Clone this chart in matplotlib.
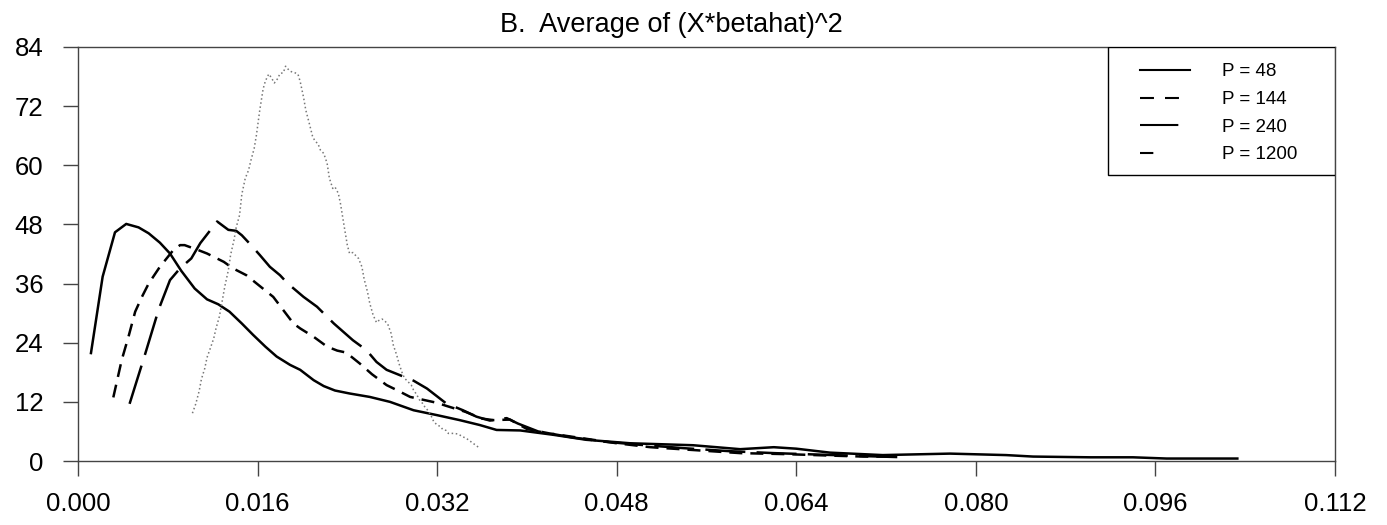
import matplotlib
matplotlib.use("Agg")
import matplotlib.pyplot as plt
from matplotlib.lines import Line2D
from matplotlib.patches import Rectangle

plt.rcParams['font.family'] = ['Liberation Sans', 'DejaVu Sans']

# ---- data (x, density) ----
x48 = [0.00116, 0.0022, 0.0033, 0.0043, 0.0054, 0.0063, 0.0073, 0.0082, 0.0092,
       0.0104, 0.0115, 0.0125, 0.0135, 0.0146, 0.0156, 0.0167, 0.0177, 0.0189,
       0.0198, 0.0210, 0.0219, 0.0229, 0.0242, 0.0260, 0.0278, 0.0299, 0.0320,
       0.0340, 0.0358, 0.0373, 0.0394, 0.0424, 0.0453, 0.0492, 0.0548, 0.0590,
       0.0620, 0.0640, 0.0670, 0.0717, 0.0777, 0.0827, 0.0851, 0.0902, 0.0940,
       0.0970, 0.1033]
y48 = [21.9, 37.4, 46.4, 48.1, 47.4, 46.2, 44.3, 42.1, 38.6,
       35.0, 32.8, 31.8, 30.3, 27.9, 25.6, 23.2, 21.2, 19.5,
       18.5, 16.4, 15.2, 14.3, 13.7, 13.0, 12.0, 10.3, 9.3,
       8.3, 7.3, 6.3, 6.2, 5.3, 4.3, 3.6, 3.2, 2.4,
       2.8, 2.5, 1.7, 1.2, 1.5, 1.2, 0.9, 0.75, 0.75,
       0.5, 0.5]

x144 = [0.00315, 0.0039, 0.0045, 0.0051, 0.0057, 0.0063, 0.0073, 0.0085, 0.0091,
        0.0095, 0.0106, 0.0115, 0.0130, 0.0138, 0.0150, 0.0162, 0.0174, 0.0183,
        0.0192, 0.0198, 0.0210, 0.0222, 0.0231, 0.0239, 0.0251, 0.0262, 0.0275,
        0.0284, 0.0296, 0.0308, 0.0320, 0.0328, 0.0345, 0.0360, 0.0370, 0.0385,
        0.0400, 0.0420, 0.0450, 0.0480, 0.0510, 0.0550, 0.0590, 0.0630, 0.0670,
        0.0700, 0.0725]
y144 = [12.9, 20.5, 25.2, 30.3, 33.3, 36.0, 39.4, 42.8, 43.8,
        43.8, 42.9, 42.1, 40.4, 39.1, 37.7, 35.5, 33.3, 30.6,
        27.9, 26.9, 25.2, 23.2, 22.4, 22.0, 19.8, 17.6, 15.4,
        14.4, 13.0, 12.4, 11.8, 11.2, 10.0, 8.6, 8.3, 8.4,
        6.5, 5.6, 4.6, 3.6, 2.8, 2.2, 1.6, 1.4, 1.1,
        0.9, 0.9]

x240 = [0.0046, 0.0060, 0.0070, 0.0073, 0.0082, 0.0091, 0.0101, 0.0109, 0.0124,
        0.0134, 0.0141, 0.0146, 0.0153, 0.0162, 0.0171, 0.0180, 0.0187, 0.0201,
        0.0213, 0.0228, 0.0245, 0.0257, 0.0266, 0.0275, 0.0287, 0.0299, 0.0311,
        0.0328, 0.0343, 0.0355, 0.0367, 0.0382, 0.0392, 0.0410, 0.0440, 0.0470,
        0.0500, 0.0540, 0.0580, 0.0620, 0.0660, 0.0700, 0.0730]
y240 = [11.6, 21.8, 29.3, 31.4, 36.7, 39.1, 41.1, 44.2, 48.6,
        46.9, 46.7, 45.8, 44.1, 41.8, 39.4, 37.7, 36.0, 33.3,
        31.3, 27.9, 24.5, 22.5, 20.1, 18.5, 17.4, 16.3, 14.7,
        11.7, 10.3, 9.0, 8.2, 8.7, 7.6, 6.0, 4.8, 3.9,
        3.3, 2.6, 2.0, 1.6, 1.3, 1.0, 0.8]

x1200 = [0.0102, 0.0105, 0.0108, 0.0110, 0.0113, 0.0115, 0.0118, 0.0121, 0.0123,
         0.0126, 0.0128, 0.0131, 0.0134, 0.0136, 0.0139, 0.0141, 0.0144, 0.0146,
         0.0149, 0.0152, 0.0154, 0.0157, 0.0159, 0.0162, 0.0165, 0.0167, 0.0170,
         0.0172, 0.0175, 0.0178, 0.0180, 0.0183, 0.0185, 0.0188, 0.0190, 0.0193,
         0.0196, 0.0198, 0.0201, 0.0203, 0.0206, 0.0209, 0.0211, 0.0214, 0.0216,
         0.0219, 0.0222, 0.0224, 0.0227, 0.0229, 0.0232, 0.0234, 0.0237, 0.0240,
         0.0242, 0.0245, 0.0247, 0.0250, 0.0253, 0.0255, 0.0258, 0.0260, 0.0263,
         0.0266, 0.0268, 0.0271, 0.0273, 0.0276, 0.0279, 0.0281, 0.0284, 0.0286,
         0.0289, 0.0291, 0.0294, 0.0297, 0.0299, 0.0302, 0.0304, 0.0307, 0.0309,
         0.0312, 0.0315, 0.0317, 0.0320, 0.0323, 0.0325, 0.0328, 0.0330, 0.0333,
         0.0335, 0.0338, 0.0340, 0.0343, 0.0346, 0.0349, 0.0352, 0.0355, 0.0358]
y1200 = [9.7, 11.6, 14.2, 16.6, 18.8, 21.0, 22.9, 24.9, 26.9,
         29.3, 31.8, 35.6, 38.7, 41.8, 44.8, 47.4, 49.9, 54.1,
         57.3, 59.0, 60.9, 63.4, 66.1, 71.2, 75.5, 77.1, 78.5,
         77.9, 76.7, 77.6, 78.6, 78.8, 80.1, 79.3, 79.0, 78.8,
         78.5, 77.0, 73.8, 71.2, 68.6, 65.9, 65.0, 64.3, 63.1,
         62.4, 60.4, 57.4, 55.3, 55.6, 54.3, 52.1, 47.9, 43.8,
         42.1, 42.3, 41.8, 41.1, 39.4, 36.9, 34.3, 32.0, 29.6,
         28.1, 28.5, 28.8, 28.5, 27.8, 25.9, 23.5, 21.5, 19.8,
         17.8, 16.8, 16.1, 15.4, 14.4, 13.4, 12.5, 11.7, 11.0,
         10.2, 9.0, 8.0, 7.3, 7.0, 6.4, 6.2, 5.6, 5.6,
         5.6, 5.5, 5.3, 4.9, 4.6, 4.1, 3.6, 3.1, 2.6]

labels = ['P = 48', 'P = 144', 'P = 240', 'P = 1200']
xticks = [0.000, 0.016, 0.032, 0.048, 0.064, 0.080, 0.096, 0.112]
yticks = [0, 12, 24, 36, 48, 60, 72, 84]

fig = plt.figure(figsize=(13.87, 5.25), dpi=100)
ax = fig.add_axes([0.0562, 0.1219, 0.9063, 0.7886])

ax.plot(x48, y48, color='black', lw=1.8, solid_joinstyle='round')
ax.plot(x144, y144, color='black', lw=1.8, linestyle=(0, (5.2, 3.2)))
ax.plot(x240, y240, color='black', lw=1.8, linestyle=(0, (16, 4.5)))
ax.plot(x1200, y1200, color='#777777', lw=1.1, linestyle=(0, (1, 1.7)))

ax.set_xlim(0, 0.112)
ax.set_ylim(0, 84)
ax.set_xticks(xticks)
ax.set_xticklabels(['%.3f' % v for v in xticks])
ax.set_yticks(yticks)
ax.tick_params(direction='out', length=11, width=1, color='#444444',
               labelsize=18.5, pad=11)
ax.tick_params(axis='y', pad=14)
for s in ax.spines.values():
    s.set_color('#444444')
    s.set_linewidth(1)

fig.text(0.484, 0.939, 'B.  Average of (X*betahat)^2', ha='center',
         va='baseline', fontsize=19.5)

# legend box drawn separately so its padding can match the reference
ax.add_patch(Rectangle((0.8194, 0.6908), 0.1806, 0.3092, transform=ax.transAxes,
                       facecolor='white', edgecolor='black', lw=1, zorder=4))

# legend handles drawn the way the reference shows them
handles = [
    Line2D([], [], color='black', lw=1.5),
    Line2D([], [], color='black', lw=1.5, linestyle=(0, (6.7, 5.3, 6.7, 60))),
    Line2D([], [], color='black', lw=1.5, linestyle=(0, (18.4, 60))),
    Line2D([], [], color='black', lw=1.5, linestyle=(0, (6.4, 60))),
]
leg = ax.legend(handles, labels, loc='upper left', bbox_to_anchor=(0.8449, 0.9605),
                fontsize=13.5, handlelength=2.67, handletextpad=1.7,
                labelspacing=0.56, borderpad=0, borderaxespad=0, frameon=False)
leg.set_zorder(5)

fig.savefig('out.png', dpi=100)
